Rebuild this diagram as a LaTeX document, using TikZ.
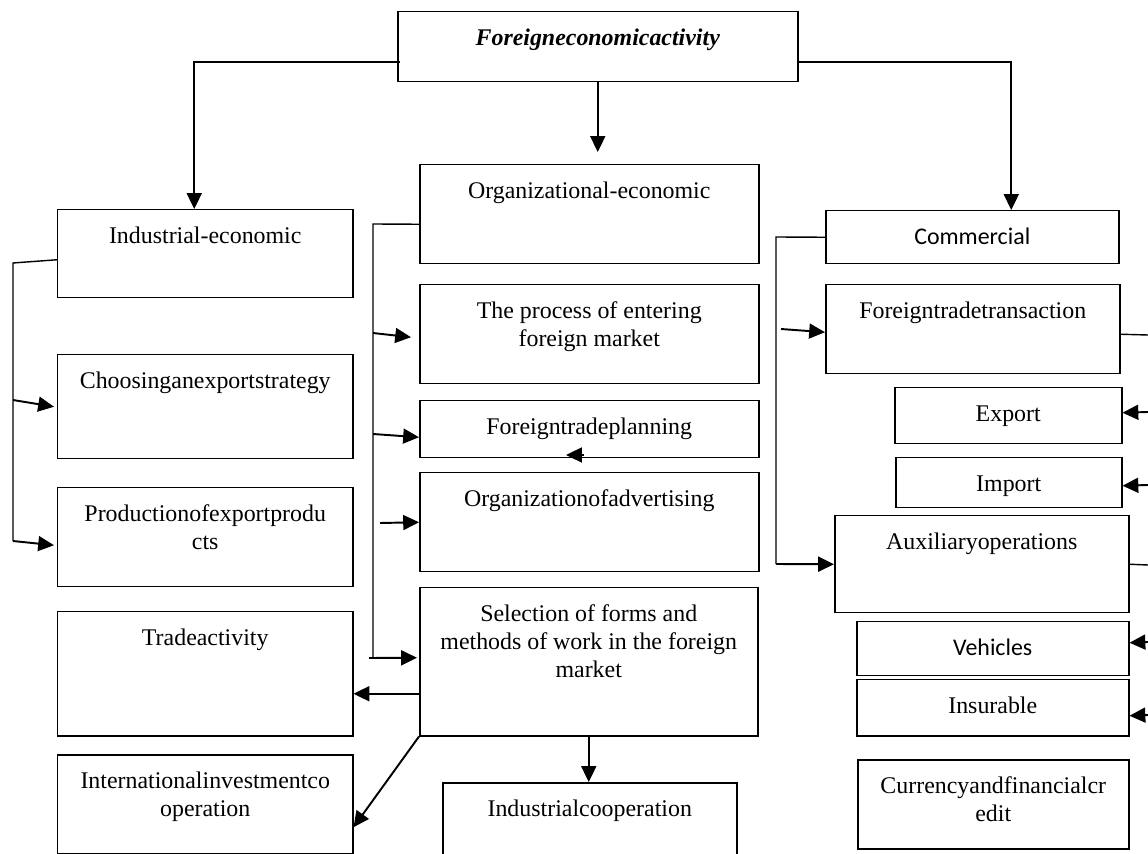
\documentclass[tikz,border=0pt]{standalone}
\usepackage{fontspec}
\setmainfont{Liberation Serif}
\newfontfamily\calfont{Carlito}
\usetikzlibrary{arrows.meta}
\newlength\pxu
\setlength\pxu{0.02cm}
\newcommand{\blocktext}[3]{\parbox[c][#2\pxu][t]{#1\pxu}{\vspace*{7.9pt}\centering\strut #3\par}}
\tikzset{
  box/.style={draw, line width=0.85pt, inner sep=0pt, anchor=north west, font=\fontsize{13.6}{15.9}\selectfont},
  arr/.style={line width=1.1pt, -{Triangle[length=9pt,width=8.5pt]}},
  bus/.style={line width=0.8pt}
}
\begin{document}
\begin{tikzpicture}[x=0.02cm, y=-0.02cm]
\useasboundingbox (0,0) rectangle (1148,854);

% boxes
\node[box] (root) at (397,11) {\blocktext{400}{70}{\textbf{\textit{Foreigneconomicactivity}}}};

\node[box] (ind) at (57,209) {\blocktext{295}{88}{Industrial-economic}};
\node[box] (choose) at (57,354) {\blocktext{295}{104}{Choosinganexportstrategy}};
\node[box] (prod) at (57,487) {\blocktext{295}{99}{Productionofexportprodu\\cts}};
\node[box] (trade) at (57,611) {\blocktext{295}{124}{Tradeactivity}};
\node[box] (intl) at (57,754) {\blocktext{295}{99}{Internationalinvestmentco\\operation}};

\node[box] (org) at (419,164) {\blocktext{339}{99}{Organizational-economic}};
\node[box] (proc) at (419,284) {\blocktext{339}{99}{The process of entering\\foreign market}};
\node[box] (plan) at (419,400) {\blocktext{339}{57}{Foreigntradeplanning}};
\node[box] (adv) at (419,472) {\blocktext{339}{99}{Organizationofadvertising}};
\node[box] (sel) at (419,587) {\blocktext{338}{148}{Selection of forms and\\methods of work in the foreign\\market}};
\node[box] (icoop) at (442,782) {\blocktext{294}{80}{Industrialcooperation}};

\node[box] (com) at (825,210) {\blocktext{293}{53}{\calfont Commercial}};
\node[box] (ftt) at (825,284) {\blocktext{294}{89}{Foreigntradetransaction}};
\node[box] (exp) at (894,387) {\blocktext{227}{56}{Export}};
\node[box] (imp) at (895,457) {\blocktext{226}{50}{Import}};
\node[box] (aux) at (834,515) {\blocktext{294}{97}{Auxiliaryoperations}};
\node[box] (veh) at (856,621) {\blocktext{272}{54}{\calfont Vehicles}};
\node[box] (ins) at (856,679) {\blocktext{272}{56}{Insurable}};
\node[box] (cur) at (857,759) {\blocktext{271}{89}{Currencyandfinancialcr\\edit}};

% from the root
\draw[arr] ([xshift=3\pxu,yshift=-15\pxu]root.west) -| ([xshift=-11\pxu]ind.north);
\draw[arr, shorten >=12\pxu] (root.south) -- (root.south |- org.north);
\draw[arr] ([yshift=-15\pxu]root.east) -| ([xshift=39\pxu]com.north);

% left column
\coordinate (ib1) at (13,263);
\coordinate (ib2) at (13,400);
\coordinate (ib3) at (13,541);
\draw[bus] ([yshift=-6\pxu]ind.west) -- (ib1) -- (ib3);
\draw[arr] (ib2) -- ([xshift=-3\pxu]choose.west);
\draw[arr] (ib3) -- ([xshift=-3\pxu,yshift=-8\pxu]prod.west);

% middle column
\coordinate (ob1) at (373,224);
\coordinate (ob2) at (373,333);
\coordinate (ob3) at (373,434);
\coordinate (ob4) at (380,523);
\coordinate (ob5) at (373,658);
\coordinate (ob6) at (369,658);
\draw[bus] ([yshift=-10\pxu]org.west) -- (ob1) -- (ob5);
\draw[arr] (ob2) -- ([xshift=-8\pxu,yshift=-3\pxu]proc.west);
\draw[arr] (ob3) -- ([yshift=-8\pxu]plan.west);
\draw[arr] (ob4) -- (adv.west);
\draw[arr] (ob6) -- ([xshift=-2\pxu,yshift=4\pxu]sel.west);

\coordinate (pl1) at (584,455);
\coordinate (pl2) at (566,455);
\draw[arr] (pl1) -- (pl2);

\draw[arr] ([yshift=-32\pxu]sel.west) -- ([yshift=-20\pxu]trade.east);
\draw[arr] (sel.south west) -- ([yshift=-23\pxu]intl.east);
\draw[arr] (sel.south) -- (sel.south |- icoop.north);

% right column
\coordinate (cb1) at (776,237);
\coordinate (cb2) at (781,329);
\coordinate (cb3) at (776,564);
\draw[bus] (com.west) -- (cb1) -- (cb3);
\draw[arr] (cb2) -- ([yshift=-3\pxu]ftt.west);
\draw[arr] (cb3) -- (aux.west);

\coordinate (rb1) at (1148,335);
\coordinate (rb2) at (1148,412);
\coordinate (rb3) at (1148,485);
\coordinate (rb4) at (1148,565);
\coordinate (rb5) at (1148,642);
\coordinate (rb6) at (1148,715);
\draw[bus] ([yshift=-5\pxu]ftt.east) -- (rb1);
\draw[arr] (rb2) -- ([yshift=3\pxu]exp.east);
\draw[arr] (rb3) -- ([yshift=-3\pxu]imp.east);
\draw[bus] (aux.east) -- (rb4);
\draw[arr] (rb5) -- ([yshift=6\pxu]veh.east);
\draw[arr] (rb6) -- ([yshift=-8\pxu]ins.east);

\end{tikzpicture}
\end{document}
